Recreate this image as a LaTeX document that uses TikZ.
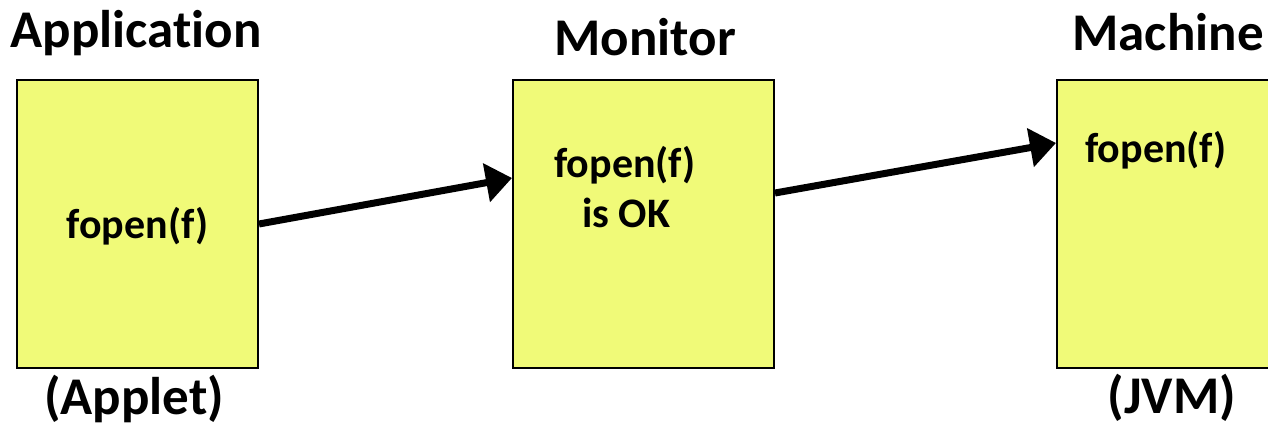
\documentclass[tikz,border=0pt]{standalone}
\usepackage{fontspec}
\setmainfont{Carlito}[Ligatures=NoCommon]
\usetikzlibrary{arrows.meta}

\definecolor{boxyellow}{RGB}{240,250,120}

\tikzset{
	stage/.style={draw=black, line width=2pt, fill=boxyellow, rectangle,
		minimum width=241pt, minimum height=288pt, inner sep=0pt},
	title/.style={anchor=base, font=\fontsize{53}{60}\selectfont\bfseries, inner sep=0pt},
	call/.style={anchor=base, font=\fontsize{42}{50}\selectfont\bfseries, inner sep=0pt},
	flow/.style={line width=7pt, -{Triangle[length=26pt,width=38pt]}}
}

\begin{document}
\begin{tikzpicture}[x=1pt,y=-1pt]
  \useasboundingbox (0,0) rectangle (1268,424);
  \clip (0,0) rectangle (1268,424);

 % les trois boites
  \node[stage] (app)  at (137.5,224) {};
  \node[stage, minimum width=261pt] (mon)  at (643.5,223.5) {};
  \node[stage] (mach) at (1177.5,224) {};

 % titres et sous-titres
  \node[title] (appname)  at (136,47) {Application};
  \node[title] (monname)  at (645,55) {Monitor};
  \node[title] (machname) at (1168,50) {Machine};
  \node[title] (applet)   at (134,414) {(Applet)};
  \node[title] (jvm)      at (1172,413) {(JVM)};

 % du texte dans les boites
  \node[call] (appcall)  at (137.5,238) {fopen(f)};
  \node[call] (moncall)  at (625,177) {fopen(f)};
  \node[call] (monok)    at (626,227) {is OK};
  \node[call] (machcall) at (1156,162) {fopen(f)};

 % les fleches
  \draw[flow] (app.east) -- ([yshift=45.5pt]mon.west);
  \draw[flow] ([yshift=30.5pt]mon.east) -- ([yshift=81pt]mach.west);
\end{tikzpicture}
\end{document}
